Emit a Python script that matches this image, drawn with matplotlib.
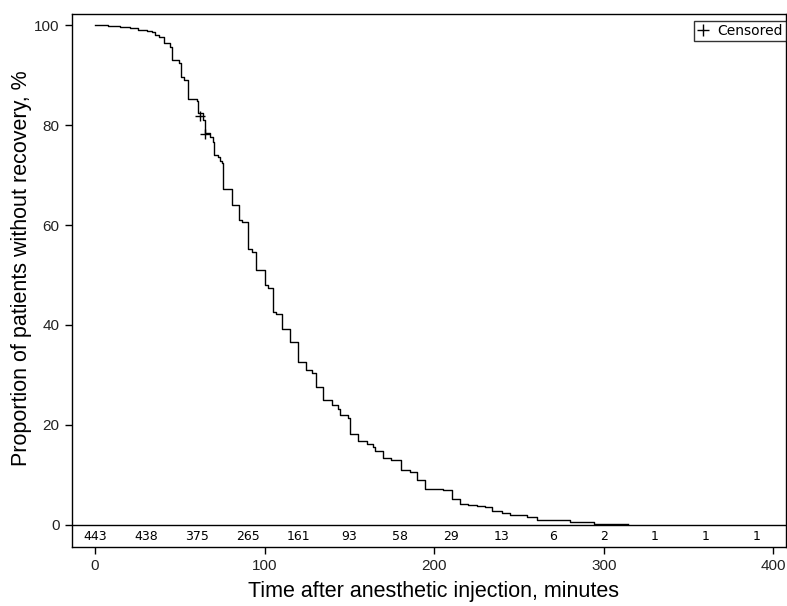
import numpy as np
import matplotlib.pyplot as plt
from matplotlib.lines import Line2D


# Kaplan-Meier steps (minutes, % without recovery)
TIMES = [0, 7.7, 14.7, 20.6, 25.4, 30.7, 33.6, 35.4, 37.8, 40.7, 44.2, 45.4,
         49.6, 50.7, 52.5, 54.9, 60.2, 60.8, 63.7, 64.9, 67.8, 69.6, 70.2,
         72.6, 73.7, 74.9, 75.3, 77.7, 80.6, 85.0, 86.4, 90.3, 92.3, 94.8,
         100.1, 102.1, 104.7, 107.0, 110.0, 114.9, 119.8, 124.7, 127.7,
         130.2, 134.5, 140.0, 143.3, 144.7, 149.2, 150.2, 155.1, 160.1,
         164.0, 165.0, 169.9, 174.8, 180.2, 185.6, 189.6, 194.7, 205.5,
         210.4, 215.3, 220.2, 225.2, 230.1, 234.0, 239.9, 244.8, 254.7,
         260.6, 280.2, 294.0, 314.6]
SURVIVAL = [100.0, 99.9, 99.7, 99.4, 99.1, 98.9, 98.6, 98.0, 97.6, 96.4, 95.6,
            93.0, 92.4, 89.6, 89.0, 85.2, 84.8, 82.4, 81.0, 78.4, 77.6, 76.6,
            74.0, 73.6, 72.8, 72.4, 67.3, 67.2, 64.0, 61.1, 60.7, 55.3, 54.7,
            51.0, 48.0, 47.5, 42.7, 42.2, 39.3, 36.7, 32.7, 31.1, 30.5, 27.7,
            25.0, 24.0, 23.3, 22.0, 21.5, 18.3, 16.8, 16.3, 15.7, 14.8, 13.5,
            13.0, 11.0, 10.7, 9.1, 7.3, 7.0, 5.3, 4.3, 4.1, 3.8, 3.7, 2.9, 2.5,
            2.0, 1.7, 1.1, 0.7, 0.23, 0.23]

CENSOR_TIMES = [62.0, 64.6]
CENSOR_SURV = [81.8, 78.2]

RISK_TIMES = [0, 30, 60, 90, 120, 150, 180, 210, 240, 270, 300, 330, 360, 390]
AT_RISK = [443, 438, 375, 265, 161, 93, 58, 29, 13, 6, 2, 1, 1, 1]

X_TICKS = [0, 100, 200, 300, 400]
Y_TICKS = [0, 20, 40, 60, 80, 100]

LABEL_FONT = ["Liberation Sans Narrow", "Liberation Sans", "DejaVu Sans"]


def plot_km(filename="out.png"):
    fig = plt.figure(figsize=(7.87, 6.06), dpi=100)
    W, H = 787, 606
    left, right, top, bottom = 72, 786, 14, 547
    ax = fig.add_axes([left / W, 1 - bottom / H, (right - left) / W, (bottom - top) / H])

    ax.step(TIMES, SURVIVAL, where="post", color="black", lw=1.0)
    ax.plot(CENSOR_TIMES, CENSOR_SURV, ls="none", marker="+", ms=7,
            mew=1.0, color="black")

    # reference line at zero, numbers at risk sit below it inside the frame
    ax.axhline(0, color="black", lw=1.0)
    for t, n in zip(RISK_TIMES, AT_RISK):
        ax.text(t, -2.2, str(n), ha="center", va="center", fontsize=9,
                family="DejaVu Sans", color="black")

    ax.set_xlim(-13.6, 407.5)
    ax.set_ylim(-4.4, 102.2)
    ax.set_xticks(X_TICKS)
    ax.set_yticks(Y_TICKS)
    ax.tick_params(axis="both", length=5, width=1, color="black",
                   labelsize=11, labelcolor="#222222", pad=4)
    for lab in ax.get_xticklabels() + ax.get_yticklabels():
        lab.set_family(["Liberation Sans", "DejaVu Sans"])
    for sp in ax.spines.values():
        sp.set_linewidth(1.0)

    handle = Line2D([], [], ls="none", marker="+", ms=8, mew=1.0, color="black")
    leg = ax.legend([handle], ["Censored"], loc="upper right",
                    bbox_to_anchor=(1.0, 1 - 7 / (bottom - top)),
                    borderaxespad=0, frameon=True, fancybox=False,
                    handlelength=0.9, handletextpad=0.6, borderpad=0.2,
                    prop={"family": "DejaVu Sans", "size": 10})
    leg.get_frame().set_edgecolor("black")
    leg.get_frame().set_linewidth(1.0)

    fig.text(433 / W, 1 - 592 / H, "Time after anesthetic injection, minutes",
             ha="center", va="center", fontsize=15.5, family=LABEL_FONT)
    fig.text(22 / W, 1 - 268 / H, "Proportion of patients without recovery, %",
             ha="center", va="center", rotation=90, fontsize=15.5, family=LABEL_FONT)

    fig.savefig(filename, dpi=100)
    plt.close(fig)


if __name__ == "__main__":
    plot_km()
